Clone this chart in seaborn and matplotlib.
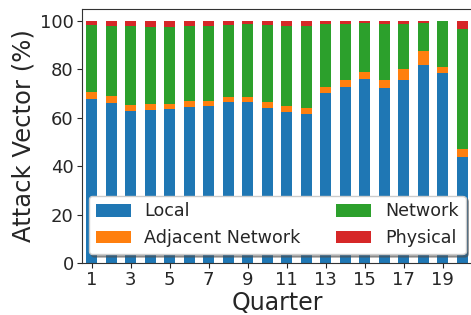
import matplotlib
matplotlib.use("Agg")
import matplotlib.pyplot as plt
import seaborn as sns
import numpy as np

quarters = [str(i) for i in range(1, 21)]
local = [67.7, 66.0, 62.8, 63.4, 63.5, 64.5, 64.7, 66.7, 66.4, 64.2,
         62.5, 61.7, 70.2, 72.6, 76.0, 72.2, 75.6, 81.7, 78.4, 43.7]
adjacent = [2.8, 3.0, 2.5, 2.4, 2.4, 2.4, 2.4, 1.9, 2.1, 2.3,
            2.2, 2.3, 2.5, 3.2, 2.9, 3.6, 4.6, 5.9, 2.6, 3.3]
network = [28.0, 29.1, 32.5, 31.7, 31.6, 31.2, 30.7, 29.7, 30.1, 31.8,
           33.4, 34.1, 26.3, 23.2, 20.3, 23.1, 18.7, 11.7, 19.0, 49.7]
physical = [1.5, 1.9, 2.2, 2.5, 2.5, 1.9, 2.2, 1.7, 1.4, 1.7,
            1.9, 1.9, 1.0, 1.0, 0.8, 1.1, 1.1, 0.7, 0.0, 3.3]
series_names = ["Local", "Adjacent Network", "Network", "Physical"]
colors = ["#1f77b4", "#ff7f0e", "#2ca02c", "#d62728"]
xtick_labels = ["1", "3", "5", "7", "9", "11", "13", "15", "17", "19"]

sns.set_style("ticks")
plt.rcParams["font.family"] = ["DejaVu Sans"]

fig = plt.figure(figsize=(4.71, 3.15), dpi=100)
ax = fig.add_axes([82 / 471, 52 / 315, 390 / 471, 254 / 315])

bottom = np.zeros(len(quarters))
for name, vals, c in zip(series_names, [local, adjacent, network, physical], colors):
    sns.barplot(x=quarters, y=vals, color=c, saturation=1, width=0.55,
                bottom=bottom.copy(), label=name, ax=ax, linewidth=0)
    bottom = bottom + np.array(vals)

ax.set_ylim(0, 105)
ax.set_xlim(-0.5, 19.5)
ax.set_xticks(range(0, 20, 2))
ax.set_xticklabels(xtick_labels)
ax.set_yticks([0, 20, 40, 60, 80, 100])
ax.tick_params(axis="both", labelsize=13, pad=2.5)
ax.set_xlabel("Quarter", fontsize=17, labelpad=1)
ax.set_ylabel("Attack Vector (%)", fontsize=17.5, labelpad=3)
for s in ax.spines.values():
    s.set_visible(True)
    s.set_color("#333333")
ax.legend(ncol=2, loc="lower center", fontsize=12.6, shadow=True)

fig.savefig("out.png", dpi=100)
